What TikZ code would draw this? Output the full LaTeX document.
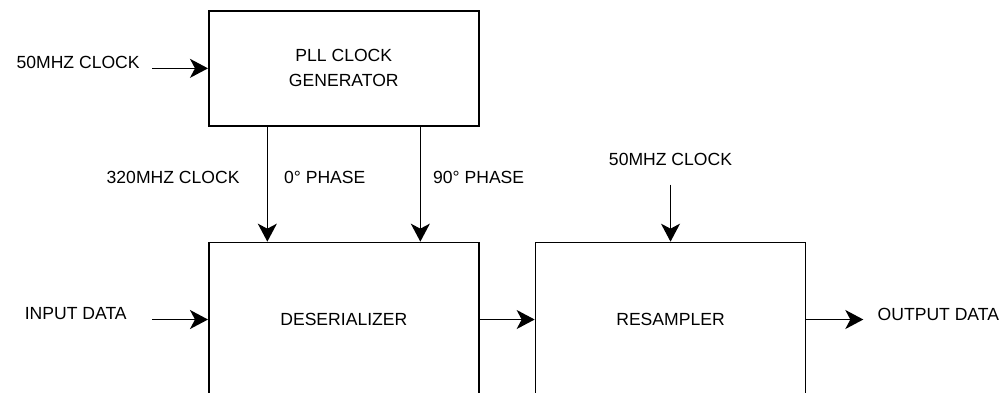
\documentclass[tikz,border=0pt]{standalone}
\usepackage{fontspec}
\setmainfont{Liberation Sans}
\usepackage{tikz}
\usetikzlibrary{positioning,arrows.meta}

\begin{document}
\begin{tikzpicture}[
node distance=1.14cm,
block/.style={draw, line width=0.95pt, minimum width=5.4cm, align=center, font=\fontsize{10}{14.2}\selectfont},
lbl/.style={inner sep=0pt, font=\fontsize{10}{14.2}\selectfont},
arr/.style={-{Stealth[length=0.36cm, width=0.38cm, inset=0.1cm]}, line width=0.95pt}
]
\useasboundingbox (0,0) rectangle (20.06,-7.84);
% blocks
\node[block, minimum height=2.3cm, anchor=north west] (pll) at (4.16,-0.2) {PLL CLOCK\\GENERATOR};
\node[block, minimum height=3.08cm, below=2.3cm of pll] (des) {DESERIALIZER};
\node[block, minimum height=3.08cm, right=1.1cm of des] (res) {RESAMPLER};
% free ends
\coordinate[left=1.12cm of pll] (pllin);
\coordinate[left=1.12cm of des] (desin);
\coordinate[right=of res] (resout);
\coordinate[above=of res] (resclk);
% labels
\node[lbl, left=0.24cm of pllin, yshift=0.12cm] (pllinlbl) {50MHZ CLOCK};
\node[lbl, left=0.5cm of desin, yshift=0.11cm] (desinlbl) {INPUT DATA};
\node[lbl, right=0.28cm of resout, yshift=0.11cm] (resoutlbl) {OUTPUT DATA};
\node[lbl, above=0.38cm of resclk] (resclklbl) {50MHZ CLOCK};
% connectors
\draw[arr] (pllin) -- (pll);
\draw[arr] (desin) -- (des);
\draw[arr] (des) -- (res);
\draw[arr] (res) -- (resout);
\draw[arr] (resclk) -- (res);
\draw[arr] ([xshift=-1.53cm]pll.south) --
  node[lbl, left=0.54cm, yshift=0.13cm] (clklbl) {320MHZ CLOCK}
  node[lbl, right=0.32cm, yshift=0.13cm] (ph0lbl) {0° PHASE}
  ([xshift=-1.53cm]des.north);
\draw[arr] ([xshift=1.53cm]pll.south) --
  node[lbl, right=0.24cm, yshift=0.13cm] (ph90lbl) {90° PHASE}
  ([xshift=1.53cm]des.north);
\end{tikzpicture}
\end{document}
